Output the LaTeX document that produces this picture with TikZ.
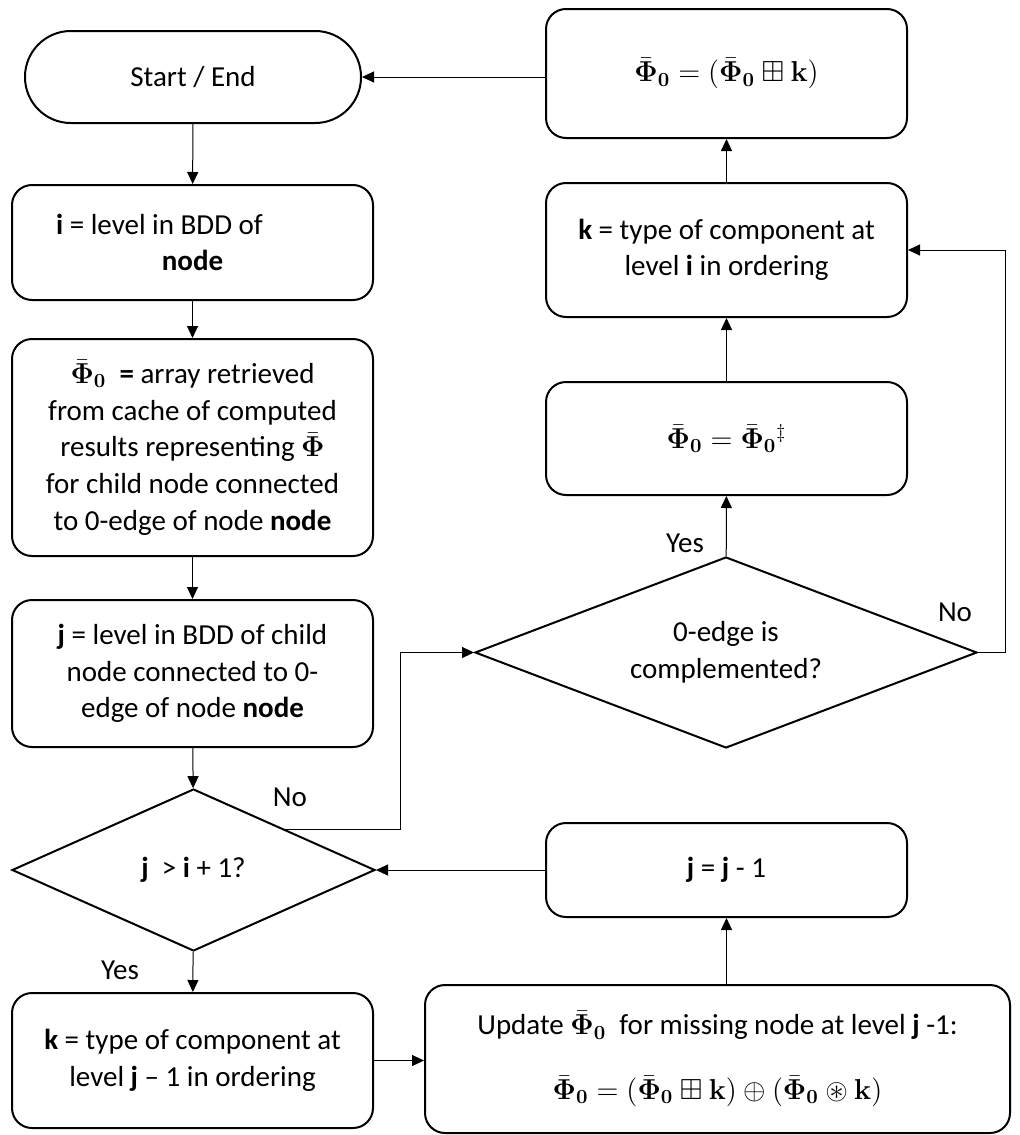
\documentclass[tikz,border=0pt]{standalone}
\usepackage{amsmath,amssymb,bm}
\usepackage[no-math]{fontspec}
\setmainfont{Carlito}
\usetikzlibrary{shapes.geometric,arrows.meta}

\newcommand{\phib}{\bar{\bm{\Phi}}_{\mathbf{0}}}

\tikzset{
  box/.style={draw, line width=1pt, rounded corners=10pt, align=center,
    inner sep=0pt, minimum width=180.5pt},
  choice/.style={draw, diamond, line width=1pt, align=center, inner sep=0pt},
  arr/.style={-{Triangle[length=6pt,width=5.5pt]}, line width=0.5pt},
  lbl/.style={inner sep=0pt}
}

\begin{document}
\begin{tikzpicture}[x=0.5pt,y=-0.5pt,font=\fontsize{14.5pt}{18.3pt}\selectfont]
    \useasboundingbox (0,0) rectangle (1019,1135);

    % Left column
    \node[box, rounded corners=22.9pt, minimum width=168pt, minimum height=46pt] (start) at (193,77) {Start / End};
    \node[box, minimum height=57.5pt] (ibox) at (192.5,242.5) {\textbf{i} = level in BDD of\hspace*{33pt}\\\textbf{node}};
    \node[box, minimum height=108.5pt] (phibox) at (192.5,447.5) {$\phib$~ \textbf{=} array retrieved\\from cache of computed\\results representing $\bar{\bm{\Phi}}$\\for child node connected\\to 0-edge of node \textbf{node}};
    \node[box, minimum height=73.5pt] (jbox) at (192.5,673.5) {\textbf{j} = level in BDD of child\\node connected to 0-\\edge of node \textbf{node}};
    \node[choice, aspect=2.2, minimum width=181.5pt, minimum height=81pt] (dec1) at (193.5,870) {\textbf{j}~ > \textbf{i} + 1?};
    \node[box, minimum height=67.5pt] (kbox) at (192.5,1060.5) {\textbf{k} = type of component at\\level \textbf{j} -- 1 in ordering};

    % Right column
    \node[box, minimum width=292.5pt, minimum height=74pt] (upd) at (717.5,1059) {Update $\phib$~ for missing node at level \textbf{j} -1:\\[14pt]$\phib = (\phib \boxplus \mathbf{k}) \oplus (\phib \circledast \mathbf{k})$};
    \node[box, minimum height=47pt] (jdec) at (726.5,870) {\textbf{j} = \textbf{j} - 1};
    \node[choice, aspect=2.6, minimum width=251pt, minimum height=95.5pt] (dec2) at (726,652.5) {0-edge is\\complemented?};
    \node[box, minimum height=56.5pt] (phid) at (726.5,438.5) {$\phib = \phib{}^{\ddagger}$};
    \node[box, minimum height=67pt] (kibox) at (726.5,250) {\textbf{k} = type of component at\\level \textbf{i} in ordering};
    \node[box, minimum height=64.5pt] (topbox) at (726.5,73.5) {$\phib = (\phib \boxplus \mathbf{k})$};

    % Bends of the No lines
    \coordinate (bendl) at (400,0);
    \coordinate (bendr) at (1005,0);

    % Connectors
    \draw[arr] (start) -- (ibox);
    \draw[arr] (ibox) -- (phibox);
    \draw[arr] (phibox) -- (jbox);
    \draw[arr] (jbox) -- (dec1);
    \draw[arr] (dec1) -- (kbox);
    \draw[arr] (kbox.east) -- (kbox.east -| upd.west);
    \draw[arr] (jdec.south |- upd.north) -- (jdec.south);
    \draw[arr] (jdec.west) -- (dec1.east);
    \draw[arr] (dec1.north east) -| (bendl |- dec2.west) -- (dec2.west);
    \draw[arr] (dec2) -- (phid);
    \draw[arr] (phid) -- (kibox);
    \draw[arr] (kibox) -- (topbox);
    \draw[arr] (dec2.east) -| (bendr |- kibox.east) -- (kibox.east);
    \draw[arr] (topbox.west |- start.east) -- (start.east);

    % Branch labels
    \node[lbl] (yes1) at (120,970) {Yes};
    \node[lbl] (no1) at (290,797) {No};
    \node[lbl] (yes2) at (685,543) {Yes};
    \node[lbl] (no2) at (955,612) {No};
\end{tikzpicture}
\end{document}
